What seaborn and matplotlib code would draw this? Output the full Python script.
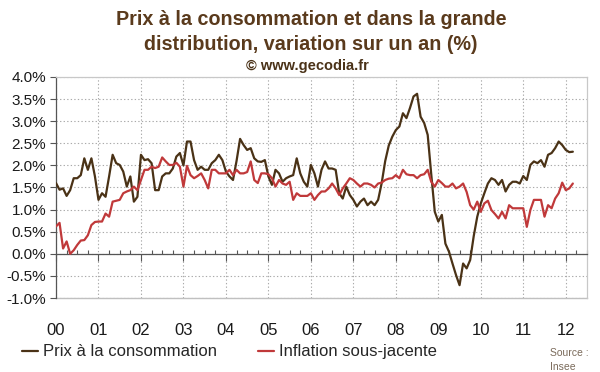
import numpy as np
import pandas as pd
import matplotlib
matplotlib.use("Agg")
import matplotlib.pyplot as plt
from matplotlib.ticker import FixedLocator, MultipleLocator, FuncFormatter
import seaborn as sns

# Données (variation sur un an, %), mensuel janv. 2000 -> mars 2012
prix_conso = [
    1.60, 1.45, 1.48, 1.31, 1.44, 1.71, 1.71, 1.78, 2.16, 1.90, 2.16, 1.75,  # 2000
    1.22, 1.37, 1.29, 1.75, 2.24, 2.05, 2.01, 1.86, 1.52, 1.75, 1.18, 1.29,  # 2001
    2.24, 2.12, 2.14, 2.05, 1.44, 1.44, 1.75, 1.82, 1.82, 1.93, 2.20, 2.28,  # 2002
    2.00, 2.54, 2.54, 2.12, 1.90, 1.97, 1.90, 1.90, 2.05, 2.12, 2.24, 2.12,  # 2003
    1.86, 1.75, 1.67, 2.10, 2.60, 2.46, 2.35, 2.39, 2.16, 2.09, 2.08, 2.12,  # 2004
    1.75, 1.56, 1.90, 1.82, 1.63, 1.71, 1.75, 1.78, 2.16, 1.82, 1.63, 1.52,  # 2005
    2.01, 1.82, 1.52, 1.90, 2.09, 1.93, 1.93, 1.90, 1.37, 1.25, 1.52, 1.33,  # 2006
    1.22, 1.07, 1.18, 1.25, 1.10, 1.18, 1.10, 1.22, 1.60, 2.10, 2.45, 2.65,  # 2007
    2.80, 2.88, 3.18, 3.07, 3.30, 3.56, 3.62, 3.10, 2.96, 2.69, 1.80, 0.95,  # 2008
    0.73, 0.88, 0.23, 0.05, -0.22, -0.48, -0.71, -0.22, -0.33, -0.14, 0.40, 0.84,  # 2009
    1.14, 1.37, 1.59, 1.71, 1.67, 1.56, 1.67, 1.41, 1.56, 1.63, 1.63, 1.59,  # 2010
    1.76, 1.67, 2.01, 2.09, 2.05, 2.12, 1.97, 2.24, 2.28, 2.39, 2.54, 2.46,  # 2011
    2.35, 2.30, 2.31,                                                        # 2012
]
inflation_sj = [
    0.62, 0.70, 0.12, 0.28, 0.00, 0.08, 0.20, 0.30, 0.31, 0.42, 0.65, 0.72,  # 2000
    0.73, 0.73, 0.91, 0.84, 1.18, 1.20, 1.22, 1.37, 1.41, 1.44, 1.52, 1.44,  # 2001
    1.67, 1.90, 1.90, 1.97, 1.94, 1.97, 2.18, 2.09, 2.01, 2.01, 2.06, 1.97,  # 2002
    1.52, 1.99, 1.78, 1.71, 1.76, 1.82, 1.67, 1.48, 1.90, 1.90, 1.82, 1.82,  # 2003
    1.82, 1.90, 1.78, 1.90, 1.82, 1.82, 1.85, 2.09, 1.67, 1.60, 1.82, 1.82,  # 2004
    1.80, 1.71, 1.52, 1.67, 1.59, 1.56, 1.63, 1.22, 1.37, 1.31, 1.31, 1.31,  # 2005
    1.37, 1.22, 1.33, 1.41, 1.41, 1.48, 1.59, 1.48, 1.33, 1.48, 1.59, 1.71,  # 2006
    1.67, 1.59, 1.52, 1.59, 1.59, 1.56, 1.50, 1.59, 1.61, 1.67, 1.70, 1.71,  # 2007
    1.78, 1.71, 1.90, 1.80, 1.78, 1.78, 1.71, 1.78, 1.80, 1.90, 1.63, 1.52,  # 2008
    1.67, 1.60, 1.52, 1.52, 1.59, 1.48, 1.52, 1.59, 1.40, 1.10, 1.00, 1.18,  # 2009
    0.95, 1.14, 1.20, 0.99, 0.90, 0.80, 0.95, 0.80, 1.10, 1.03, 1.03, 1.03,  # 2010
    1.03, 0.61, 0.99, 1.22, 1.22, 1.22, 0.84, 1.10, 1.03, 1.25, 1.37, 1.61,  # 2011
    1.44, 1.48, 1.59,                                                        # 2012
]
series_names = ["Prix à la consommation", "Inflation sous-jacente"]
series_colors = ["#4a3216", "#c0393a"]
years = list(range(2000, 2013))
year_labels = [f"{y % 100:02d}" for y in years]
y_ticks = [-1.0, -0.5, 0.0, 0.5, 1.0, 1.5, 2.0, 2.5, 3.0, 3.5, 4.0]

# Mise en forme longue pour seaborn
dates = pd.date_range("2000-01-01", periods=len(prix_conso), freq="MS")
t = dates.year + (dates.month - 1) / 12
df = pd.DataFrame({"t": t, series_names[0]: prix_conso, series_names[1]: inflation_sj})
df_long = df.melt(id_vars="t", var_name="serie", value_name="valeur")

sns.set_style("white")
plt.rcParams["font.family"] = ["Liberation Sans", "DejaVu Sans"]

fig = plt.figure(figsize=(6, 3.72), dpi=100)
ax = fig.add_axes([56 / 600, 1 - 298 / 372, (587 - 56) / 600, (298 - 77) / 372])

sns.lineplot(data=df_long, x="t", y="valeur", hue="serie", hue_order=series_names,
             palette=series_colors, linewidth=1.6, ax=ax, zorder=3)

# Axes
ax.set_xlim(2000, 2012.5)
ax.set_ylim(-1, 4)
ax.set_xlabel("")
ax.set_ylabel("")

grid_kw = dict(color="#aaaaaa", linestyle=(0, (1.2, 2.0)), linewidth=0.8)
ax.yaxis.set_major_locator(FixedLocator(y_ticks))
ax.yaxis.set_major_formatter(FuncFormatter(lambda v, p: f"{v:.1f}%"))
ax.tick_params(axis="y", direction="out", length=4, width=0.8, color="#555555",
               labelsize=11, labelcolor="#1a1a1a", pad=3, left=True)

ax.xaxis.set_major_locator(FixedLocator(years))
ax.xaxis.set_minor_locator(MultipleLocator(0.25))
ax.tick_params(axis="x", which="major", direction="out", length=5, width=0.8,
               color="#555555", bottom=True, labelbottom=False)
ax.tick_params(axis="x", which="minor", direction="in", length=3, width=0.8,
               color="#555555", bottom=True)
ax.set_axisbelow(True)
ax.grid(True, axis="y", which="major", **grid_kw)
ax.grid(True, axis="x", which="major", **grid_kw)

ax.spines["bottom"].set_position(("data", 0))
ax.spines["bottom"].set_color("#555555")
ax.spines["left"].set_color("#555555")
ax.spines["top"].set_color("#c8c8c8")
ax.spines["right"].set_color("#c8c8c8")
for s in ax.spines.values():
    s.set_linewidth(0.9)

# Étiquettes des années en bas du cadre
sec = ax.secondary_xaxis("bottom")
sec.patch.set_visible(False)
sec.set_zorder(0)
sec.xaxis.set_major_locator(FixedLocator(years))
sec.set_xticklabels(year_labels)
sec.tick_params(length=0, pad=18, labelsize=12, labelcolor="#1a1a1a")
sec.spines["bottom"].set_visible(True)
sec.spines["bottom"].set_color("#c0c0c0")
sec.spines["bottom"].set_linewidth(1.0)

# Légende
sns.move_legend(ax, "center", bbox_to_anchor=(0.382, 0.054), bbox_transform=fig.transFigure,
                ncol=2, frameon=False, title=None, fontsize=12, handlelength=0.95,
                handletextpad=0.3, columnspacing=2.45)

# Titres
title_color = "#5a3a1c"
fig.text(0.518, 0.947, "Prix à la consommation et dans la grande", ha="center", va="center",
         fontsize=14.2, fontweight="bold", color=title_color)
fig.text(0.518, 0.880, "distribution, variation sur un an (%)", ha="center", va="center",
         fontsize=14.2, fontweight="bold", color=title_color)
fig.text(0.513, 0.822, "© www.gecodia.fr", ha="center", va="center",
         fontsize=10.5, fontweight="bold", color="#4a3218")
fig.text(0.917, 0.032, "Source :\nInsee", ha="left", va="center", fontsize=7.5,
         color="#7a6a5a", linespacing=1.4)

fig.savefig("out.png", dpi=100)
